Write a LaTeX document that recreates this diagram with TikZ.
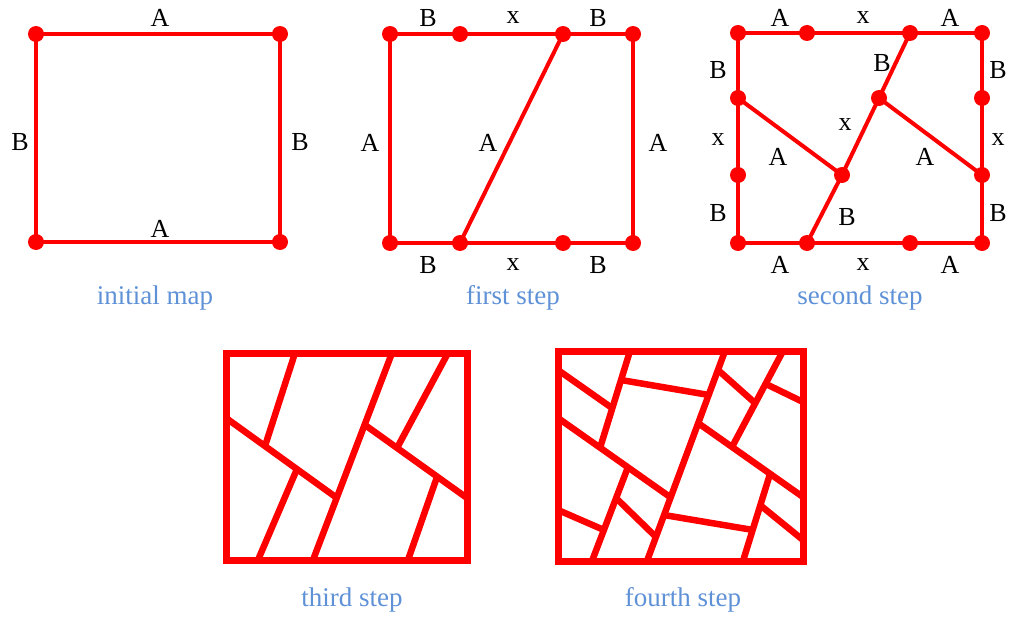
\documentclass[tikz,border=0pt]{standalone}
\usepackage{fontspec}
\setmainfont{Liberation Serif}
\definecolor{mapred}{RGB}{255,0,0}
\definecolor{stepblue}{RGB}{95,145,215}
\begin{document}
\begin{tikzpicture}[x=1pt, y=-1pt,
  edge/.style={mapred, line width=4pt},
  cut/.style={mapred, line width=6.5pt},
  frame/.style={mapred, line width=7pt},
  lbl/.style={font=\fontsize{26}{26}\selectfont, inner sep=0pt},
  steptitle/.style={stepblue, font=\fontsize{27}{27}\selectfont, inner sep=0pt}]
  \useasboundingbox (0,0) rectangle (1009,618);

  % initial map
  \coordinate (a1) at (36,34);  \coordinate (a2) at (280,34);
  \coordinate (a3) at (280,242); \coordinate (a4) at (36,242);
  \draw[edge] (a1) -- (a2) -- (a3) -- (a4) -- cycle;
  \foreach \p in {a1,a2,a3,a4} \fill[mapred] (\p) circle (8pt);
  \node[lbl] (a-top) at (160,18) {A};
  \node[lbl] (a-left) at (20,142) {B};
  \node[lbl] (a-right) at (300,142) {B};
  \node[lbl] (a-bot) at (160,229) {A};
  \node[steptitle] (a-title) at (155,298) {initial map};

  % first step
  \coordinate (b1) at (390,34);  \coordinate (b2) at (460,34);
  \coordinate (b3) at (563,34);  \coordinate (b4) at (633,34);
  \coordinate (b5) at (390,243); \coordinate (b6) at (460,243);
  \coordinate (b7) at (563,243); \coordinate (b8) at (633,243);
  \draw[edge] (b1) -- (b4) -- (b8) -- (b5) -- cycle;
  \draw[edge] (b6) -- (b3);
  \foreach \p in {b1,b2,b3,b4,b5,b6,b7,b8} \fill[mapred] (\p) circle (8pt);
  \node[lbl] (b-t1) at (428,18) {B};
  \node[lbl] (b-t2) at (513,18) {x};
  \node[lbl] (b-t3) at (598,18) {B};
  \node[lbl] (b-l) at (370,143) {A};
  \node[lbl] (b-m) at (488,143) {A};
  \node[lbl] (b-r) at (658,143) {A};
  \node[lbl] (b-b1) at (428,265) {B};
  \node[lbl] (b-b2) at (513,265) {x};
  \node[lbl] (b-b3) at (598,265) {B};
  \node[steptitle] (b-title) at (513,298) {first step};

  % second step
  \coordinate (c1) at (738,33);  \coordinate (c2) at (807,33);
  \coordinate (c3) at (910,33);  \coordinate (c4) at (982,33);
  \coordinate (c5) at (738,98);  \coordinate (c6) at (738,175);
  \coordinate (c7) at (738,243); \coordinate (c8) at (982,98);
  \coordinate (c9) at (982,175); \coordinate (c10) at (982,243);
  \coordinate (c11) at (807,243); \coordinate (c12) at (910,243);
  \coordinate (cp) at (879,98);  \coordinate (cq) at (842,175);
  \draw[edge] (c1) -- (c4) -- (c10) -- (c7) -- cycle;
  \draw[edge] (c3) -- (cp) -- (cq) -- (c11);
  \draw[edge] (c5) -- (cq);
  \draw[edge] (cp) -- (c9);
  \foreach \p in {c1,c2,c3,c4,c5,c6,c7,c8,c9,c10,c11,c12,cp,cq}
    \fill[mapred] (\p) circle (8pt);
  \node[lbl] (c-t1) at (780,18) {A};
  \node[lbl] (c-t2) at (863,18) {x};
  \node[lbl] (c-t3) at (950,18) {A};
  \node[lbl] (c-l1) at (718,70) {B};
  \node[lbl] (c-l2) at (718,140) {x};
  \node[lbl] (c-l3) at (718,213) {B};
  \node[lbl] (c-r1) at (998,70) {B};
  \node[lbl] (c-r2) at (998,140) {x};
  \node[lbl] (c-r3) at (998,213) {B};
  \node[lbl] (c-i1) at (882,63) {B};
  \node[lbl] (c-i2) at (845,125) {x};
  \node[lbl] (c-i3) at (778,157) {A};
  \node[lbl] (c-i4) at (925,157) {A};
  \node[lbl] (c-i5) at (847,217) {B};
  \node[lbl] (c-b1) at (780,265) {A};
  \node[lbl] (c-b2) at (863,265) {x};
  \node[lbl] (c-b3) at (950,265) {A};
  \node[steptitle] (c-title) at (860,298) {second step};

  % third step
  \coordinate (t-nw) at (226,353); \coordinate (t-se) at (467,560);
  \coordinate (t-d0) at (313,560); \coordinate (t-d1) at (392,353);
  \coordinate (t-l0) at (226,418); \coordinate (t-j1) at (337,498);
  \coordinate (t-j2) at (365,425); \coordinate (t-r0) at (467,498);
  \draw[frame] (t-nw) rectangle (t-se);
  \draw[cut] (t-d0) -- (t-d1);
  \draw[cut] (t-l0) -- (t-j1);
  \draw[cut] (t-j2) -- (t-r0);
  \draw[cut] (295,353) coordinate (t-a0) -- (265,446) coordinate (t-a1);
  \draw[cut] (297,469) coordinate (t-b0) -- (258,560) coordinate (t-b1);
  \draw[cut] (448,353) coordinate (t-c0) -- (397,448) coordinate (t-c1);
  \draw[cut] (437,477) coordinate (t-e0) -- (408,560) coordinate (t-e1);
  \node[steptitle] (t-title) at (352,600) {third step};

  % fourth step
  \coordinate (f-nw) at (558,351); \coordinate (f-se) at (803,561);
  \coordinate (f-d0) at (647,561); \coordinate (f-d1) at (725,351);
  \coordinate (f-l0) at (558,418); \coordinate (f-j1) at (670,497);
  \coordinate (f-j2) at (698,423); \coordinate (f-r0) at (803,497);
  \coordinate (f-a0) at (630,351); \coordinate (f-a1) at (600,448);
  \coordinate (f-b0) at (628,467); \coordinate (f-b1) at (592,561);
  \coordinate (f-c0) at (783,351); \coordinate (f-c1) at (732,447);
  \coordinate (f-e0) at (770,474); \coordinate (f-e1) at (743,561);
  \draw[frame] (f-nw) rectangle (f-se);
  \draw[cut] (f-d0) -- (f-d1);
  \draw[cut] (f-l0) -- (f-j1);
  \draw[cut] (f-j2) -- (f-r0);
  \draw[cut] (f-a0) -- (f-a1);
  \draw[cut] (f-b0) -- (f-b1);
  \draw[cut] (f-c0) -- (f-c1);
  \draw[cut] (f-e0) -- (f-e1);
  \draw[cut] (558,370) -- (612,408);
  \draw[cut] (621,380) -- (709,395);
  \draw[cut] (718,370) -- (755,403);
  \draw[cut] (766,384) -- (803,402);
  \draw[cut] (558,510) -- (604,530);
  \draw[cut] (616,498) -- (656,537);
  \draw[cut] (664,515) -- (753,530);
  \draw[cut] (760,505) -- (803,540);
  \node[steptitle] (f-title) at (683,600) {fourth step};
\end{tikzpicture}
\end{document}
